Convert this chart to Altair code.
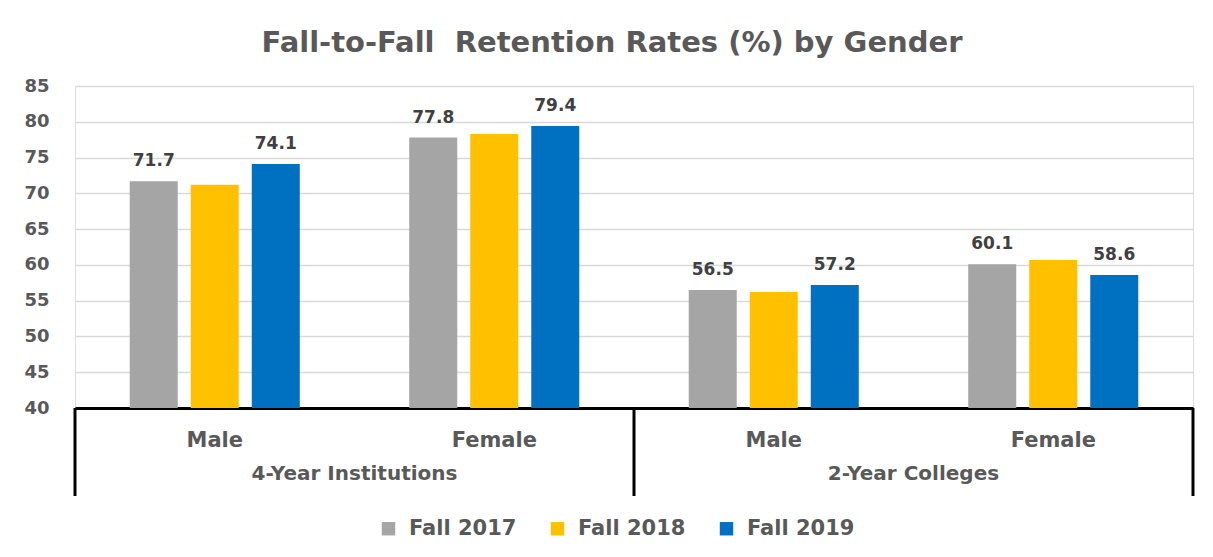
import altair as alt
import pandas as pd

groups = ["4-Year Institutions", "4-Year Institutions", "2-Year Colleges", "2-Year Colleges"]
genders = ["Male", "Female", "Male", "Female"]
years = ["Fall 2017", "Fall 2018", "Fall 2019"]
fall2017 = [71.7, 77.8, 56.5, 60.1]
fall2018 = [71.2, 78.3, 56.2, 60.7]
fall2019 = [74.1, 79.4, 57.2, 58.6]
colors = ["#A5A5A5", "#FFC000", "#0070C0"]
y_ticks = [40, 45, 50, 55, 60, 65, 70, 75, 80, 85]

keys = [f"{g}|{s}" for g, s in zip(groups, genders)]
rows = []
for yr, vals in zip(years, [fall2017, fall2018, fall2019]):
    for k, g, s, v in zip(keys, groups, genders, vals):
        rows.append({"key": k, "group": g, "gender": s, "year": yr, "value": v})
df = pd.DataFrame(rows)

W, H = 1118, 322
FONT = "DejaVu Sans"

x_scale = alt.Scale(paddingInner=0, paddingOuter=0)
x_axis = alt.Axis(domain=True, domainColor="black", domainWidth=3,
                  ticks=False, grid=False, labelAngle=0,
                  labelExpr="split(datum.label, '|')[1]",
                  labelFont=FONT, labelFontSize=21, labelFontWeight="bold",
                  labelColor="#595959", labelPadding=21)
y_scale = alt.Scale(domain=[40, 85], nice=False, zero=False)
y_axis = alt.Axis(values=y_ticks, domain=False, ticks=False,
                  grid=True, gridColor="#D9D9D9", gridWidth=1.5,
                  labelOverlap=False,
                  labelFont=FONT, labelFontSize=18, labelFontWeight="bold",
                  labelColor="#595959", labelPadding=26)
off_scale = alt.Scale(paddingInner=0.213, paddingOuter=0.897)

base = alt.Chart(df)

bars = base.mark_bar(clip=True).encode(
    x=alt.X("key:N", sort=keys, title=None, scale=x_scale, axis=x_axis),
    xOffset=alt.XOffset("year:N", sort=years, scale=off_scale),
    y=alt.Y("value:Q", title=None, scale=y_scale, axis=y_axis),
    color=alt.Color("year:N", sort=years,
                    scale=alt.Scale(domain=years, range=colors),
                    legend=alt.Legend(title=None, orient="none", direction="horizontal",
                                      legendX=303, legendY=432,
                                      symbolType="square", symbolSize=180,
                                      symbolStrokeWidth=0, symbolOpacity=1,
                                      labelFont=FONT, labelFontSize=21,
                                      labelFontWeight="bold", labelColor="#595959",
                                      columnPadding=30, labelOffset=10)),
)

labels = base.transform_filter(
    alt.FieldOneOfPredicate(field="year", oneOf=["Fall 2017", "Fall 2019"])
).mark_text(font=FONT, fontSize=17, fontWeight="bold", color="#404040",
            baseline="bottom", dy=-11).encode(
    x=alt.X("key:N", sort=keys, title=None, scale=x_scale, axis=x_axis),
    xOffset=alt.XOffset("year:N", sort=years, scale=off_scale),
    y=alt.Y("value:Q", title=None, scale=y_scale, axis=y_axis),
    text=alt.Text("value:Q", format=".1f"),
)

gdf = pd.DataFrame({"key": [keys[0], keys[2]], "group": [groups[0], groups[2]]})
group_labels = alt.Chart(gdf).mark_text(
    font=FONT, fontSize=20, fontWeight="bold", color="#595959", baseline="middle"
).encode(
    x=alt.X("key:N", sort=keys, bandPosition=1, title=None, scale=x_scale, axis=x_axis),
    y=alt.value(H + 66),
    text="group:N",
)

rdf_left = pd.DataFrame({"key": [keys[0], keys[2]]})
rdf_right = pd.DataFrame({"key": [keys[3]]})
rules_left = alt.Chart(rdf_left).mark_rule(color="black", strokeWidth=3).encode(
    x=alt.X("key:N", sort=keys, bandPosition=0, title=None, scale=x_scale, axis=x_axis),
    y=alt.value(H), y2=alt.value(H + 88),
)
rules_right = alt.Chart(rdf_right).mark_rule(color="black", strokeWidth=3).encode(
    x=alt.X("key:N", sort=keys, bandPosition=1, title=None, scale=x_scale, axis=x_axis),
    y=alt.value(H), y2=alt.value(H + 88),
)

chart = alt.layer(bars, labels, group_labels, rules_left, rules_right).properties(
    width=W, height=H,
    title=alt.TitleParams("Fall-to-Fall\u00a0 Retention Rates (%) by Gender",
                          font=FONT, fontSize=29, fontWeight="bold",
                          color="#595959", anchor="middle", dx=-22, offset=19),
    autosize=alt.AutoSizeParams(type="none"),
    padding={"left": 67, "top": 78, "right": 12, "bottom": 141},
).configure_view(strokeWidth=0, strokeOpacity=0).configure_axisY(
    domain=False
).configure_axisX(grid=False).configure(background="white")

chart.save("out.html", embed_options={"renderer": "svg", "actions": False})
